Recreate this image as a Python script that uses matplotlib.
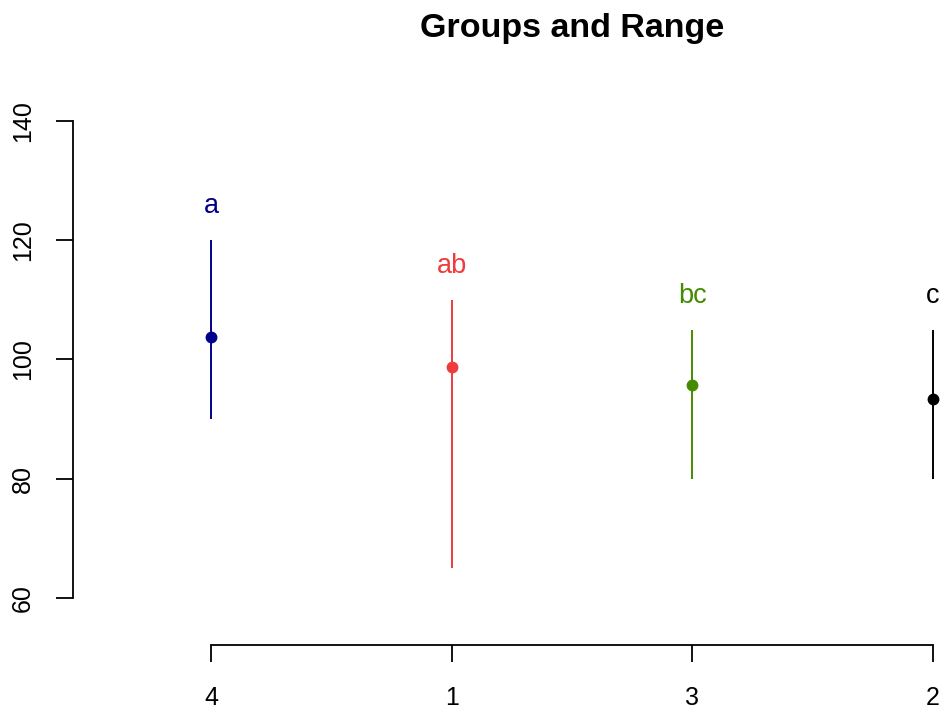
import matplotlib.pyplot as plt

groups = ['4', '1', '3', '2']
means = [103.7, 98.8, 95.7, 93.3]
mins = [90, 65, 80, 80]
maxs = [120, 110, 105, 105]
letters = ['a', 'ab', 'bc', 'c']
colores = ['#00008B', '#EE3B3B', '#458B00', '#000000']

plt.rcParams['font.family'] = ['Liberation Sans', 'DejaVu Sans']

W, H = 943, 709
fig = plt.figure(figsize=(W / 100, H / 100), dpi=100)
# plot region in pixel terms (left 73, bottom 645, right 943, top 100)
ax = fig.add_axes([73 / W, 1 - 645 / H, (943 - 73) / W, (645 - 100) / H])

px_x = 240.7  # pixels per x unit
px_y = 5.96   # pixels per y unit
ax.set_xlim(1 - (211 - 73) / px_x, 4 + (943 - 933) / px_x)
ax.set_ylim(60 - (645 - 598) / px_y, 140 + (121 - 100) / px_y)

xs = list(range(1, len(groups) + 1))
for x, m, lo, hi, let, c in zip(xs, means, mins, maxs, letters, colores):
    ax.vlines(x, lo, hi, color=c, linewidth=1.4)
    ax.plot(x, m, 'o', color=c, markersize=7.5)
    ax.text(x, hi + 4.5, let, color=c, ha='center', va='baseline', fontsize=19.5)

ax.spines['top'].set_visible(False)
ax.spines['right'].set_visible(False)
ax.spines['left'].set_bounds(60, 140)
ax.spines['bottom'].set_bounds(1, 4)
ax.spines['left'].set_linewidth(1.3)
ax.spines['bottom'].set_linewidth(1.3)

ax.set_xticks(xs)
ax.set_xticklabels(groups)
ax.set_yticks([60, 80, 100, 120, 140])
ax.tick_params(axis='both', direction='out', length=12.5, width=1.3, labelsize=18)
ax.tick_params(axis='x', pad=17)
ax.tick_params(axis='y', pad=15)
for lab in ax.get_yticklabels():
    lab.set_rotation(90)
    lab.set_verticalalignment('center')

fig.text(572 / W, 1 - 28 / H, 'Groups and Range', ha='center', va='center',
         fontsize=24.5, fontweight='bold')

plt.savefig('out.png', dpi=100)
